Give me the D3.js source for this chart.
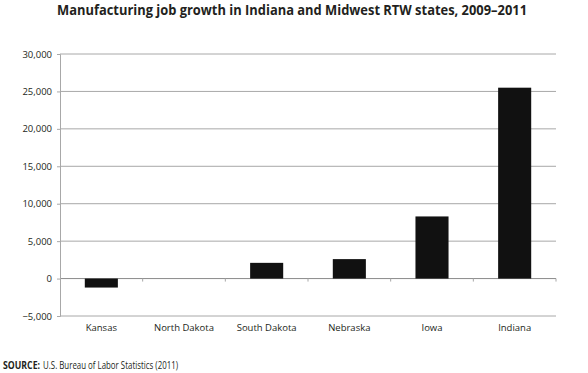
<!DOCTYPE html>
<html>
<head>
<meta charset="utf-8">
<script src="https://cdn.jsdelivr.net/npm/d3@7"></script>
<style>
  body { margin: 0; background: #fff; }
  text { font-family: "Open Sans", "Noto Sans", sans-serif; fill: #231f20; }
</style>
</head>
<body>
<div id="chart"></div>
<script>
const states = ['Kansas', 'North Dakota', 'South Dakota', 'Nebraska', 'Iowa', 'Indiana'];
const jobGrowth = [-1200, 0, 2100, 2600, 8300, 25500];
const yTicks = [-5000, 0, 5000, 10000, 15000, 20000, 25000, 30000];

const svgWidth = 588;
const svgHeight = 373;
const margin = { top: 54, right: 32, bottom: 57, left: 60 };
const width = svgWidth - margin.left - margin.right;
const height = svgHeight - margin.top - margin.bottom;

const data = states.map((s, i) => ({ state: s, value: jobGrowth[i] }));

const svg = d3.select('#chart')
    .append('svg')
    .attr('width', svgWidth)
    .attr('height', svgHeight);

svg.append('text')
    .attr('x', 292)
    .attr('y', 15)
    .attr('text-anchor', 'middle')
    .attr('textLength', 470)
    .attr('lengthAdjust', 'spacingAndGlyphs')
    .style('font-size', '14.5px')
    .style('font-weight', 'bold')
    .text('Manufacturing job growth in Indiana and Midwest RTW states, 2009\u20132011');

const bounds = svg.append('g')
    .attr('transform', `translate(${margin.left}, ${margin.top})`);

const xScale = d3.scaleBand()
    .domain(states)
    .range([0, width])
    .paddingInner(0.6)
    .paddingOuter(0.3);

const yScale = d3.scaleLinear()
    .domain([-5000, 30000])
    .range([height, 0]);

// gridlines
bounds.selectAll('.grid')
    .data(yTicks)
    .enter()
    .append('line')
    .attr('class', 'grid')
    .attr('x1', 0)
    .attr('x2', width)
    .attr('y1', d => yScale(d))
    .attr('y2', d => yScale(d))
    .style('stroke', d => d === 0 ? '#8a8a8a' : '#a8a8a8')
    .style('stroke-width', 1);

const yAxisGroup = bounds.append('g')
    .attr('class', 'y axis')
    .call(d3.axisLeft(yScale)
        .tickValues(yTicks)
        .tickSize(3)
        .tickPadding(5)
        .tickFormat(d3.format(',')));
yAxisGroup.select('.domain').style('stroke', '#a8a8a8');
yAxisGroup.selectAll('.tick line').style('stroke', '#a8a8a8');
yAxisGroup.selectAll('.tick text')
    .style('font-size', '9.5px')
    .style('fill', '#231f20');

// category boundary ticks on the zero line
const step = xScale.step();
bounds.selectAll('.cat-tick')
    .data(d3.range(1, states.length + 1))
    .enter()
    .append('line')
    .attr('class', 'cat-tick')
    .attr('x1', i => i * step)
    .attr('x2', i => i * step)
    .attr('y1', yScale(0))
    .attr('y2', yScale(0) + 3)
    .style('stroke', '#a8a8a8');

bounds.selectAll('.bar')
    .data(data)
    .enter()
    .append('rect')
    .attr('class', 'bar')
    .attr('x', d => xScale(d.state))
    .attr('width', xScale.bandwidth())
    .attr('y', d => yScale(Math.max(0, d.value)))
    .attr('height', d => Math.abs(yScale(d.value) - yScale(0)))
    .style('fill', '#111111');

bounds.selectAll('.cat-label')
    .data(states)
    .enter()
    .append('text')
    .attr('class', 'cat-label')
    .attr('x', d => xScale(d) + xScale.bandwidth() / 2)
    .attr('y', height + 15)
    .attr('text-anchor', 'middle')
    .style('font-size', '9.5px')
    .text(d => d);

svg.append('text')
    .attr('x', 3)
    .attr('y', 369)
    .attr('textLength', 37)
    .attr('lengthAdjust', 'spacingAndGlyphs')
    .style('font-size', '10px')
    .style('font-weight', 'bold')
    .text('SOURCE:');

svg.append('text')
    .attr('x', 43)
    .attr('y', 369)
    .attr('textLength', 135)
    .attr('lengthAdjust', 'spacingAndGlyphs')
    .style('font-size', '10px')
    .text('U.S. Bureau of Labor Statistics (2011)');
</script>
</body>
</html>
